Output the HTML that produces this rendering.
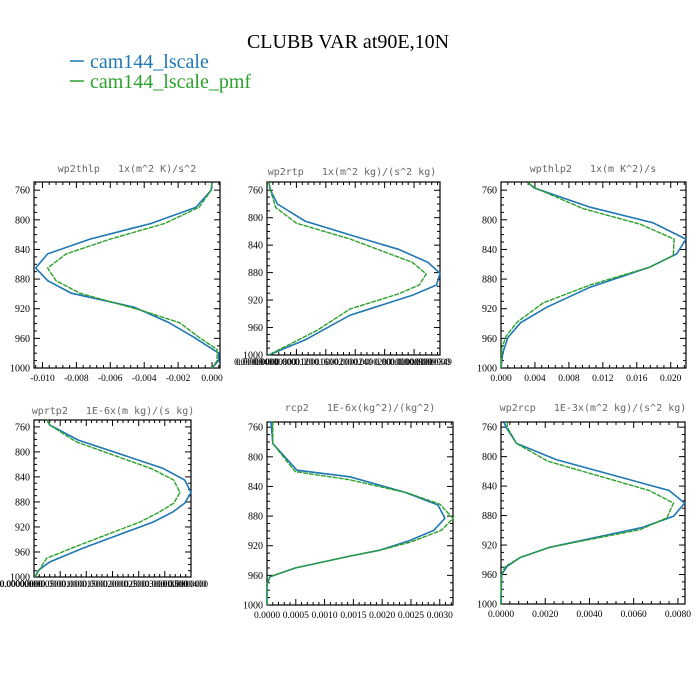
<!DOCTYPE html>
<html><head><meta charset="utf-8"><style>
body{margin:0;background:#fff}
svg{display:block}
text{white-space:pre}
</style></head><body>
<svg id="chart" width="700" height="700" viewBox="0 0 700 700" xmlns="http://www.w3.org/2000/svg" xml:space="preserve">
<rect width="700" height="700" fill="#fff"/>
<text x="348" y="48" font-family="Liberation Serif, serif" font-size="20" text-anchor="middle">CLUBB VAR at90E,10N</text>
<g>
<line x1="70" y1="61" x2="84" y2="61" stroke="#1f77b4" stroke-width="1.5"/>
<text x="90" y="68" font-family="Liberation Serif, serif" font-size="20" fill="#1f77b4">cam144_lscale</text>
<line x1="70" y1="81" x2="84" y2="81" stroke="#2ca02c" stroke-width="1.5"/>
<text x="90" y="88" font-family="Liberation Serif, serif" font-size="20" fill="#2ca02c">cam144_lscale_pmf</text>
</g>
<g id="panels"></g>
</svg>
<script>
// Panel 1: wp2thlp
const p1BlueP=[750,760,783,805,826,846,865,882,899,918,938,958,980,990,1000];
const p1BlueV=[0,-0.00005,-0.00094,-0.0036,-0.0072,-0.0097,-0.0104,-0.0097,-0.0083,-0.0046,-0.0026,-0.0011,0.0004,0.0004,0];
const p1GreenP=[750,760,783,805,826,846,865,882,899,922,939,958,975,990,1000];
const p1GreenV=[0,-0.00005,-0.00076,-0.0028,-0.0060,-0.0086,-0.0097,-0.0092,-0.0078,-0.0042,-0.0019,-0.0008,0.0003,0.0003,0];
const p1XTicks=[-0.010,-0.008,-0.006,-0.004,-0.002,0.000];
const p1XLabels=["-0.010","-0.008","-0.006","-0.004","-0.002","0.000"];
// Panel 2: wp2rtp (normalized)
const p2BlueP=[748,760,780,805,825,846,865,881,898,913,942,978,1000];
const p2BlueV=[0.01,0.02,0.06,0.22,0.48,0.76,0.93,1.0,0.98,0.84,0.48,0.22,0.01];
const p2GreenP=[748,760,785,808,831,865,882,898,911,933,964,1000];
const p2GreenV=[0.01,0.02,0.05,0.17,0.48,0.84,0.92,0.88,0.76,0.48,0.29,0.01];
const p2XTicks=[0,0.17,0.34,0.51,0.68,0.85,1.0];
const p2XLabels=["0.00000000","0.00000400","0.00000800","0.0000120","0.0000160","0.0000200","0.0000240","0.0000280","0.000000","0.00000300","0.00000349","0.0009999900"];
// Panel 3: wpthlp2
const p3BlueP=[750,757,783,804,826,846,864,891,918,939,959,980,1000];
const p3BlueV=[0.0032,0.0039,0.0105,0.0179,0.0218,0.0207,0.0175,0.0105,0.0054,0.0023,0.0008,0.0002,0];
const p3GreenP=[750,757,785,806,826,848,864,888,912,938,957,973,1000];
const p3GreenV=[0.0032,0.0040,0.0097,0.0164,0.0204,0.0203,0.0175,0.0105,0.0050,0.0019,0.0006,0.0001,0];
const p3XTicks=[0,0.004,0.008,0.012,0.016,0.020];
const p3XLabels=["0.000","0.004","0.008","0.012","0.016","0.020"];
// Panel 4: wprtp2 (normalized)
const p4BlueP=[749,757,781,826,845,865,882,896,912,954,976,989,1000];
const p4BlueV=[0.083,0.1,0.28,0.82,0.96,1.0,0.96,0.885,0.76,0.31,0.10,0.03,0.005];
const p4GreenP=[749,757,784,827,845,865,882,896,912,949,970,1000];
const p4GreenV=[0.083,0.1,0.27,0.75,0.89,0.93,0.89,0.80,0.675,0.29,0.08,0.005];
const p4XTicks=[0,0.167,0.333,0.5,0.667,0.833,1.0];
const p4XLabels=["0.00000000","0.00000000","0.00000500","0.00001000","0.00001500","0.00002000","0.00002500","0.00003000","0.00003500","0.0000400","0.0000000000"];
// Panel 5: rcp2
const p5BlueP=[752,782,818,827,848,865,883,899,913,926,934,950,962,972,1000];
const p5BlueV=[0.00007,0.0001,0.00052,0.00144,0.0024,0.00297,0.00309,0.0029,0.00248,0.00196,0.00144,0.00049,0.00005,0,0];
const p5GreenP=[752,782,820,831,849,864,883,899,915,926,934,950,962,972,1000];
const p5GreenV=[0.0001,0.0001,0.00049,0.00144,0.00245,0.003,0.00323,0.00303,0.0025,0.00196,0.00144,0.00049,0.00005,0,0];
const p5XTicks=[0,0.0005,0.0010,0.0015,0.0020,0.0025,0.0030];
const p5XLabels=["0.0000","0.0005","0.0010","0.0015","0.0020","0.0025","0.0030"];
// Panel 6: wp2rcp
const p6BlueP=[753,761,782,804,846,863,881,896,923,937,949,960,1000];
const p6BlueV=[0.00012,0.00025,0.0007,0.0025,0.0076,0.0083,0.0078,0.0064,0.0022,0.00086,0.00027,0.00003,0];
const p6GreenP=[753,761,782,806,846,863,883,899,923,937,949,960,1000];
const p6GreenV=[0.00027,0.0003,0.0007,0.0021,0.0067,0.0078,0.0075,0.0063,0.0022,0.00086,0.0002,0.00002,0];
const p6XTicks=[0,0.002,0.004,0.006,0.008];
const p6XLabels=["0.0000","0.0020","0.0040","0.0060","0.0080"];
const yTicks=[760,800,840,880,920,960,1000];
const yLabels=["760","800","840","880","920","960","1000"];

const NS="http://www.w3.org/2000/svg";
const root=document.getElementById('panels');
function mk(tag,attrs,parent){const e=document.createElementNS(NS,tag);for(const k in attrs)e.setAttribute(k,attrs[k]);parent.appendChild(e);return e;}

const panels=[
 {name:'wp2thlp',title:'wp2thlp   1x(m^2 K)/s^2',tx:127,ty:172,x0:34,x1:220,y0:182,y1:368,xmin:-0.0105,xmax:0.00047,pmin:749,ticks:p1XTicks,labels:p1XLabels,bp:p1BlueP,bv:p1BlueV,gp:p1GreenP,gv:p1GreenV,garbled:false,minor:4},
 {name:'wp2rtp',title:'wp2rtp   1x(m^2 kg)/(s^2 kg)',tx:352,ty:175,x0:267,x1:440,y0:182,y1:355,xmin:0,xmax:1,pmin:748,ticks:p2XTicks,labels:p2XLabels,bp:p2BlueP,bv:p2BlueV,gp:p2GreenP,gv:p2GreenV,garbled:true,glx0:236,glx1:450,minor:4},
 {name:'wpthlp2',title:'wpthlp2   1x(m K^2)/s',tx:593,ty:172,x0:501,x1:686,y0:182,y1:368,xmin:0,xmax:0.0218,pmin:749,ticks:p3XTicks,labels:p3XLabels,bp:p3BlueP,bv:p3BlueV,gp:p3GreenP,gv:p3GreenV,garbled:false,minor:4},
 {name:'wprtp2',title:'wprtp2   1E-6x(m kg)/(s kg)',tx:113,ty:414,x0:34,x1:191,y0:420,y1:577,xmin:0,xmax:1,pmin:749,ticks:p4XTicks,labels:p4XLabels,bp:p4BlueP,bv:p4BlueV,gp:p4GreenP,gv:p4GreenV,garbled:true,glx0:0,glx1:208,minor:4},
 {name:'rcp2',title:'rcp2   1E-6x(kg^2)/(kg^2)',tx:360,ty:411,x0:267,x1:453,y0:422,y1:605,xmin:0,xmax:0.00323,pmin:753,ticks:p5XTicks,labels:p5XLabels,bp:p5BlueP,bv:p5BlueV,gp:p5GreenP,gv:p5GreenV,garbled:false,minor:4},
 {name:'wp2rcp',title:'wp2rcp   1E-3x(m^2 kg)/(s^2 kg)',tx:593,ty:411,x0:501,x1:685,y0:422,y1:604,xmin:0,xmax:0.00832,pmin:753,ticks:p6XTicks,labels:p6XLabels,bp:p6BlueP,bv:p6BlueV,gp:p6GreenP,gv:p6GreenV,garbled:false,minor:4}
];

panels.forEach(c=>{
 const g=mk('g',{},root);
 
 
 const xs=v=>c.x0+(v-c.xmin)/(c.xmax-c.xmin)*(c.x1-c.x0);
 const ys=p=>c.y0+(p-c.pmin)/(1000-c.pmin)*(c.y1-c.y0);
 const t=mk('text',{x:c.tx,y:c.ty,'font-family':'DejaVu Sans Mono, Liberation Mono, monospace','font-size':'10','fill':'#666','text-anchor':'middle'},g);
 
 
 t.textContent=c.title;
 for(let p=760;p<=1000;p+=10){
  const y=ys(p);const major=(p%40===0);const L=major?6:3;
  mk('line',{x1:c.x0,y1:y,x2:c.x0+L,y2:y,stroke:'#000','stroke-width':1},g);
  mk('line',{x1:c.x1,y1:y,x2:c.x1-L,y2:y,stroke:'#000','stroke-width':1},g);
 }
 yTicks.forEach((p,i)=>{
  const lt=mk('text',{x:c.x0-4,y:ys(p)+3.5,'font-family':'Liberation Serif, serif','font-size':'10','text-anchor':'end'},g);
  
  
  lt.textContent=yLabels[i];
 });
 const step=c.ticks[1]-c.ticks[0];
 for(let i=0;i<c.ticks.length;i++){
  const x=xs(c.ticks[i]);
  mk('line',{x1:x,y1:c.y1,x2:x,y2:c.y1-6,stroke:'#000','stroke-width':1},g);
  mk('line',{x1:x,y1:c.y0,x2:x,y2:c.y0+6,stroke:'#000','stroke-width':1},g);
  for(let m=1;m<c.minor+1;m++){
   const xm=xs(c.ticks[i]+step*m/(c.minor+1)); if(xm>c.x1) break;
   mk('line',{x1:xm,y1:c.y1,x2:xm,y2:c.y1-3,stroke:'#000','stroke-width':1},g);
   mk('line',{x1:xm,y1:c.y0,x2:xm,y2:c.y0+3,stroke:'#000','stroke-width':1},g);
  }
  if(i===0){for(let m=1;m<=c.minor;m++){const xm=xs(c.ticks[0]-step*m/(c.minor+1)); if(xm<c.x0)break;
   mk('line',{x1:xm,y1:c.y1,x2:xm,y2:c.y1-3,stroke:'#000','stroke-width':1},g);
   mk('line',{x1:xm,y1:c.y0,x2:xm,y2:c.y0+3,stroke:'#000','stroke-width':1},g);}}
 }
 if(c.garbled){
  const n=c.labels.length;
  c.labels.forEach((s,i)=>{
   const lt=mk('text',{x:c.glx0+(c.glx1-c.glx0)*i/(n-1),y:c.y1+10,'font-family':'Liberation Serif, serif','font-size':'9','text-anchor':i===0?'start':(i===n-1?'end':'middle')},g);
   
   
   lt.textContent=s;
  });
 } else {
  c.ticks.forEach((v,i)=>{
   const lt=mk('text',{x:xs(v),y:c.y1+13,'font-family':'Liberation Serif, serif','font-size':'9.5','text-anchor':'middle'},g);
   
   
   lt.textContent=c.labels[i];
  });
 }
 const fr=mk('rect',{x:c.x0,y:c.y0,width:c.x1-c.x0,height:c.y1-c.y0,fill:'none',stroke:'#000','stroke-width':1.2},g);
 
 
 const bl=mk('polyline',{points:c.bp.map((p,i)=>xs(c.bv[i]).toFixed(1)+','+ys(p).toFixed(1)).join(' '),fill:'none',stroke:'#1f77b4','stroke-width':1.6},g);
 
 
 const gl=mk('polyline',{points:c.gp.map((p,i)=>xs(c.gv[i]).toFixed(1)+','+ys(p).toFixed(1)).join(' '),fill:'none',stroke:'#2ca02c','stroke-width':1.4,'stroke-dasharray':'5,1'},g);
 
 
});
</script>
</body></html>
